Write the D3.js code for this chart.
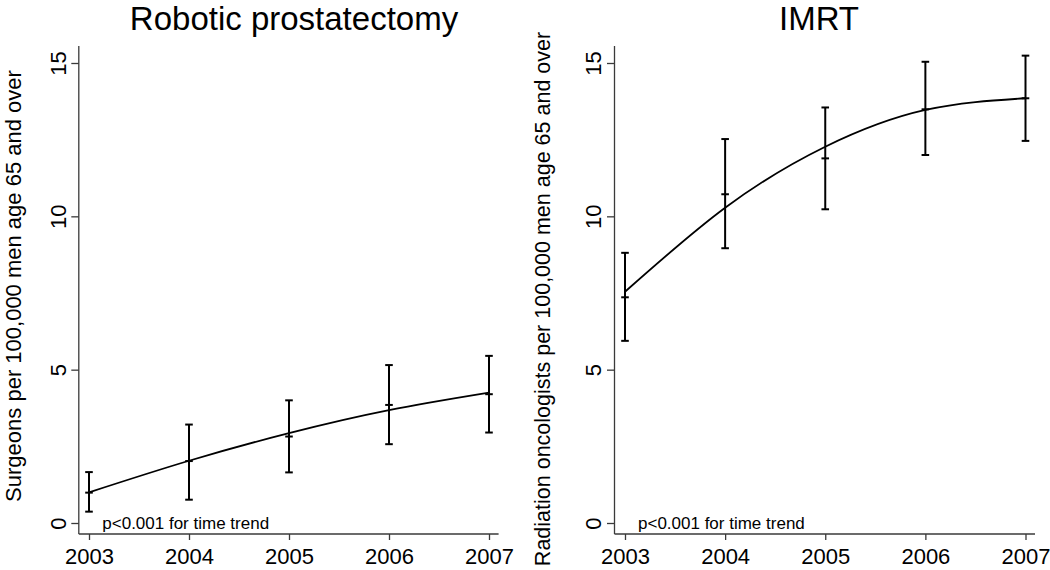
<!DOCTYPE html>
<html>
<head>
<meta charset="utf-8">
<script src="https://cdn.jsdelivr.net/npm/d3@7"></script>
<style>
  html, body { margin: 0; padding: 0; background: #fff; }
  svg { display: block; font-family: "Liberation Sans", Arial, Helvetica, sans-serif; }
</style>
</head>
<body>
<svg id="chart" width="1050" height="570"></svg>
<script>
// ---- data ----
const years = [2003, 2004, 2005, 2006, 2007];
const yTicks = [0, 5, 10, 15];

const roboticMean  = [0.99, 2.02, 2.82, 3.85, 4.20];
const roboticLow   = [0.37, 0.76, 1.65, 2.57, 2.95];
const roboticHigh  = [1.66, 3.21, 4.00, 5.15, 5.45];
const roboticTrend = [1.00, 2.03, 2.93, 3.68, 4.25];

const imrtMean  = [7.36, 10.72, 11.89, 13.49, 13.85];
const imrtLow   = [5.94, 8.96, 10.23, 12.00, 12.46];
const imrtHigh  = [8.81, 12.52, 13.55, 15.04, 15.24];
const imrtTrend = [7.54, 10.28, 12.27, 13.47, 13.85];

const panelTitles = ["Robotic prostatectomy", "IMRT"];
const yTitles = ["Surgeons per 100,000 men age 65 and over",
                 "Radiation oncologists per 100,000 men age 65 and over"];
const note = "p<0.001 for time trend";

// ---- layout ----
const panels = [
  { title: panelTitles[0], ytitle: yTitles[0], mean: roboticMean, low: roboticLow, high: roboticHigh, trend: roboticTrend,
    axisX: 78.8, x0: 89, x1: 489, xEnd: 498.6, titleX: 294, ytitleX: 20.5, ytitleY: 286, ytitleSize: 22, tickLabGap: 12.5 },
  { title: panelTitles[1], ytitle: yTitles[1], mean: imrtMean, low: imrtLow, high: imrtHigh, trend: imrtTrend,
    axisX: 614.5, x0: 625, x1: 1025.5, xEnd: 1035, titleX: 819, ytitleX: 550, ytitleY: 299, ytitleSize: 21.5, tickLabGap: 14 }
];
const yTop = 46, yBase = 534;
const y = d3.scaleLinear().domain([0, 15]).range([523, 63]);

const svg = d3.select("#chart");
const axisColor = "#3a3a3a";

panels.forEach(p => {
  const x = d3.scaleLinear().domain([2003, 2007]).range([p.x0, p.x1]);
  const g = svg.append("g");

  // title
  g.append("text").attr("x", p.titleX).attr("y", 30)
    .attr("text-anchor", "middle").attr("font-size", 33).attr("fill", "#000")
    .text(p.title);

  // y axis
  const ya = d3.axisLeft(y).tickValues(yTicks).tickFormat(d3.format("d")).tickSize(7.5).tickSizeOuter(0);
  const yg = g.append("g").attr("transform", `translate(${p.axisX},0)`).call(ya);
  yg.select(".domain").remove();
  yg.selectAll(".tick line").attr("stroke", axisColor).attr("stroke-width", 1.3);
  yg.selectAll(".tick text")
    .attr("x", null).attr("dy", null)
    .attr("transform", `translate(${-p.tickLabGap},0) rotate(-90)`)
    .attr("text-anchor", "middle")
    .attr("font-size", 22).attr("fill", "#000")
    .attr("font-family", "Liberation Sans, Arial, sans-serif");
  g.append("line").attr("x1", p.axisX).attr("x2", p.axisX).attr("y1", yTop).attr("y2", yBase)
    .attr("stroke", axisColor).attr("stroke-width", 1.3);

  // x axis
  const xa = d3.axisBottom(x).tickValues(years).tickFormat(d3.format("d")).tickSize(6).tickPadding(8).tickSizeOuter(0);
  const xg = g.append("g").attr("transform", `translate(0,${yBase})`).call(xa);
  xg.select(".domain").remove();
  xg.selectAll(".tick line").attr("stroke", axisColor).attr("stroke-width", 1.3);
  xg.selectAll(".tick text").attr("font-size", 22).attr("fill", "#000")
    .attr("font-family", "Liberation Sans, Arial, sans-serif");
  g.append("line").attr("x1", p.axisX).attr("x2", p.xEnd).attr("y1", yBase).attr("y2", yBase)
    .attr("stroke", axisColor).attr("stroke-width", 1.3);

  // y title
  g.append("text")
    .attr("transform", `translate(${p.ytitleX},${p.ytitleY}) rotate(-90)`)
    .attr("text-anchor", "middle").attr("font-size", p.ytitleSize).attr("fill", "#000")
    .text(p.ytitle);

  // error bars
  const rows = years.map((yr, i) => ({ yr, m: p.mean[i], lo: p.low[i], hi: p.high[i], t: p.trend[i] }));
  const cap = 3.8;
  const eb = g.append("g").attr("stroke", "#000").attr("stroke-width", 2);
  eb.selectAll("line.v").data(rows).join("line").attr("class", "v")
    .attr("x1", d => x(d.yr)).attr("x2", d => x(d.yr))
    .attr("y1", d => y(d.lo)).attr("y2", d => y(d.hi));
  ["lo", "hi", "m"].forEach(k => {
    eb.selectAll("line.c" + k).data(rows).join("line").attr("class", "c" + k)
      .attr("x1", d => x(d.yr) - cap).attr("x2", d => x(d.yr) + cap)
      .attr("y1", d => y(d[k])).attr("y2", d => y(d[k]));
  });

  // fitted trend
  const line = d3.line().x(d => x(d.yr)).y(d => y(d.t)).curve(d3.curveNatural);
  g.append("path").datum(rows).attr("d", line)
    .attr("fill", "none").attr("stroke", "#000").attr("stroke-width", 1.8);

  // note
  g.append("text").attr("x", p.axisX + 23.5).attr("y", 528.5)
    .attr("font-size", 17).attr("fill", "#000").text(note);
});
</script>
</body>
</html>
